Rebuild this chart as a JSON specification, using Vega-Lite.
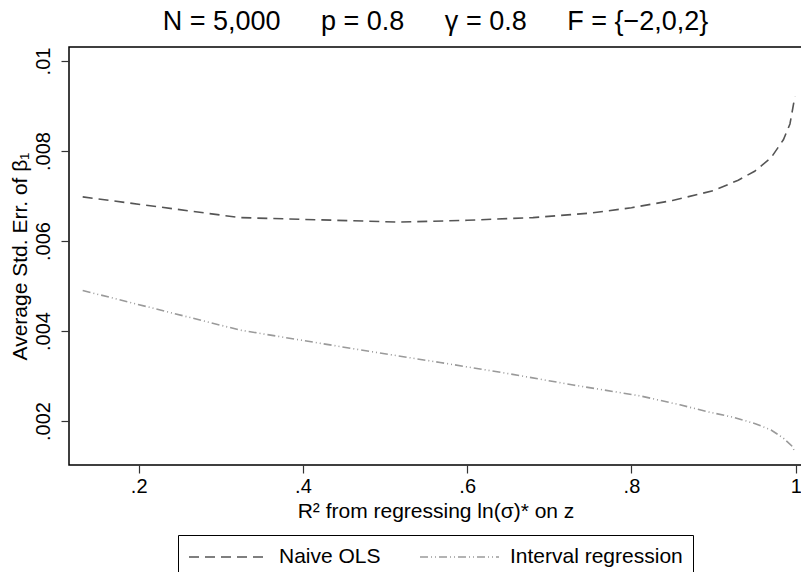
{
  "$schema": "https://vega.github.io/schema/vega-lite/v6.json",
  "autosize": "none",
  "padding": {"left": 69, "top": 47, "right": 0, "bottom": 107},
  "width": 733,
  "height": 418,
  "background": "white",
  "config": {
    "font": "Liberation Sans",
    "view": {"stroke": "black", "strokeWidth": 1.5},
    "axis": {"grid": false, "domain": false, "labelFont": "Liberation Sans", "titleFont": "Liberation Sans", "labelColor": "black", "titleColor": "black", "tickColor": "#333", "tickSize": 8, "tickWidth": 1.2, "labelFontSize": 20, "titleFontSize": 20, "titleFontWeight": "normal"}
  },
  "title": {"text": "N = 5,000\u2002\u2002\u2002p = 0.8\u2002\u2002\u2002γ = 0.8\u2002\u2002\u2002F = {−2,0,2}", "fontSize": 27, "fontWeight": "normal", "font": "Liberation Sans", "color": "black", "anchor": "middle", "baseline": "alphabetic", "offset": -10},
  "data": {"values": [
    {"r2": 0.1318, "se": 0.00698, "series": "Naive OLS"},
    {"r2": 0.3234, "se": 0.00652, "series": "Naive OLS"},
    {"r2": 0.518, "se": 0.00642, "series": "Naive OLS"},
    {"r2": 0.6, "se": 0.00646, "series": "Naive OLS"},
    {"r2": 0.68, "se": 0.00652, "series": "Naive OLS"},
    {"r2": 0.75, "se": 0.00662, "series": "Naive OLS"},
    {"r2": 0.8, "se": 0.00674, "series": "Naive OLS"},
    {"r2": 0.85, "se": 0.0069, "series": "Naive OLS"},
    {"r2": 0.9, "se": 0.00712, "series": "Naive OLS"},
    {"r2": 0.93, "se": 0.00735, "series": "Naive OLS"},
    {"r2": 0.95, "se": 0.00755, "series": "Naive OLS"},
    {"r2": 0.97, "se": 0.00785, "series": "Naive OLS"},
    {"r2": 0.985, "se": 0.00825, "series": "Naive OLS"},
    {"r2": 0.993, "se": 0.0086, "series": "Naive OLS"},
    {"r2": 0.999, "se": 0.00921, "series": "Naive OLS"},
    {"r2": 0.1318, "se": 0.0049, "series": "Interval regression"},
    {"r2": 0.3234, "se": 0.00402, "series": "Interval regression"},
    {"r2": 0.47, "se": 0.00358, "series": "Interval regression"},
    {"r2": 0.567, "se": 0.0033, "series": "Interval regression"},
    {"r2": 0.648, "se": 0.00306, "series": "Interval regression"},
    {"r2": 0.729, "se": 0.0028, "series": "Interval regression"},
    {"r2": 0.81, "se": 0.00256, "series": "Interval regression"},
    {"r2": 0.859, "se": 0.00236, "series": "Interval regression"},
    {"r2": 0.8916, "se": 0.00221, "series": "Interval regression"},
    {"r2": 0.925, "se": 0.00208, "series": "Interval regression"},
    {"r2": 0.9525, "se": 0.00193, "series": "Interval regression"},
    {"r2": 0.97, "se": 0.0018, "series": "Interval regression"},
    {"r2": 0.985, "se": 0.00162, "series": "Interval regression"},
    {"r2": 0.995, "se": 0.00145, "series": "Interval regression"},
    {"r2": 0.999, "se": 0.00132, "series": "Interval regression"}
  ]},
  "mark": {"type": "line", "strokeWidth": 1.6, "clip": true},
  "encoding": {
    "x": {"field": "r2", "type": "quantitative",
      "scale": {"domain": [0.11513, 1.00767], "nice": false, "zero": false},
      "axis": {"values": [0.2, 0.4, 0.6, 0.8, 1], "title": "R² from regressing ln(σ)* on z", "titleFontSize": 21, "labelExpr": "datum.value == 1 ? '1' : replace(format(datum.value, '.1f'), '0.', '.')", "labelPadding": 3, "titlePadding": 4}},
    "y": {"field": "se", "type": "quantitative",
      "scale": {"domain": [0.0010222, 0.010311], "nice": false, "zero": false},
      "axis": {"values": [0.002, 0.004, 0.006, 0.008, 0.01], "title": "Average Std. Err. of β₁", "titleFontSize": 21, "labelExpr": "replace(format(datum.value, '.3~f'), '0.', '.')", "labelAngle": -90, "labelAlign": "center", "labelBaseline": "bottom", "labelPadding": 8, "titlePadding": 3}},
    "color": {"field": "series", "type": "nominal", "sort": ["Naive OLS", "Interval regression"],
      "scale": {"domain": ["Naive OLS", "Interval regression"], "range": ["#555555", "#9a9a9a"]},
      "legend": {"title": null, "orient": "none", "legendX": 109, "legendY": 488, "direction": "horizontal", "columns": 2, "symbolType": "stroke", "symbolSize": 6241, "symbolStrokeWidth": 1.6, "clipHeight": 24, "labelFontSize": 21, "labelFont": "Liberation Sans", "labelColor": "black", "labelOffset": 10, "labelLimit": 400, "columnPadding": 38, "padding": 10, "strokeColor": "black", "fillColor": "white"}},
    "strokeDash": {"field": "series", "type": "nominal", "sort": ["Naive OLS", "Interval regression"],
      "scale": {"domain": ["Naive OLS", "Interval regression"], "range": [[10, 6], [8, 3, 1, 3, 1, 3]]},
      "legend": {"title": null, "orient": "none", "legendX": 109, "legendY": 488, "direction": "horizontal", "columns": 2, "symbolType": "stroke", "symbolSize": 6241, "symbolStrokeWidth": 1.6, "clipHeight": 24, "labelFontSize": 21, "labelFont": "Liberation Sans", "labelColor": "black", "labelOffset": 10, "labelLimit": 400, "columnPadding": 38, "padding": 10, "strokeColor": "black", "fillColor": "white"}}
  }
}
